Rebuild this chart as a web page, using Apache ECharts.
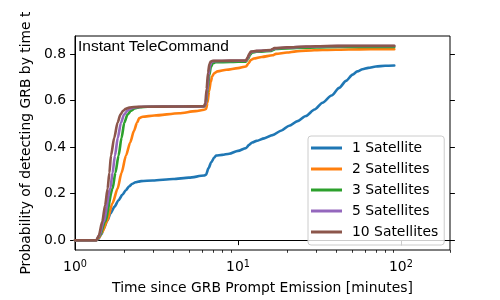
<!DOCTYPE html>
<html>
<head>
<meta charset="utf-8">
<script src="https://cdn.jsdelivr.net/npm/echarts@6/dist/echarts.min.js"></script>
<style>html,body{margin:0;padding:0;background:#fff}#c{width:500px;height:300px}</style>
</head>
<body>
<div id="c"></div>
<script>
const seriesNames = ['1 Satellite', '2 Satellites', '3 Satellites', '5 Satellites', '10 Satellites'];
const seriesColors = ['#1f77b4', '#ff7f0e', '#2ca02c', '#9467bd', '#8c564b'];

const t1 = [1, 1.35, 1.39, 1.45, 1.5, 1.58, 1.65, 1.75, 1.85, 1.95, 2.05, 2.15, 2.25, 2.35, 2.45, 2.55, 3.0, 4.0, 5.0, 6.2, 6.37, 6.6, 6.85, 7.15, 7.33, 8.0, 8.84, 10.0, 11.19, 11.7, 12.2, 13.0, 14.5, 16.3, 18.5, 20.6, 23.2, 26.1, 29.5, 33.0, 37.5, 41.8, 46.0, 50.5, 54.0, 58.1, 63.0, 70.2, 80.0, 91.0];
const p1 = [0, 0, 0.005, 0.025, 0.05, 0.085, 0.115, 0.145, 0.172, 0.195, 0.215, 0.232, 0.243, 0.249, 0.252, 0.254, 0.257, 0.263, 0.269, 0.278, 0.282, 0.31, 0.335, 0.355, 0.364, 0.367, 0.372, 0.384, 0.396, 0.41, 0.42, 0.427, 0.438, 0.452, 0.472, 0.492, 0.512, 0.534, 0.562, 0.591, 0.622, 0.655, 0.685, 0.712, 0.726, 0.735, 0.741, 0.747, 0.75, 0.751];

const t2 = [1, 1.35, 1.4, 1.47, 1.57, 1.7, 1.825, 1.93, 2.055, 2.18, 2.3, 2.4, 2.48, 2.6, 3.065, 4.36, 5.5, 6.2, 6.37, 6.5, 6.65, 6.8, 6.95, 7.15, 7.5, 8.5, 10.0, 11.2, 11.6, 12.0, 12.5, 14.0, 16.3, 17.1, 20.0, 22.7, 26.1, 33.0, 48.0, 65.0, 91.0];
const p2 = [0, 0, 0.01, 0.035, 0.08, 0.16, 0.222, 0.29, 0.364, 0.42, 0.47, 0.505, 0.525, 0.531, 0.536, 0.546, 0.555, 0.561, 0.564, 0.59, 0.64, 0.68, 0.705, 0.718, 0.726, 0.733, 0.74, 0.747, 0.76, 0.775, 0.781, 0.788, 0.795, 0.801, 0.807, 0.812, 0.815, 0.818, 0.82, 0.821, 0.821];

const t3 = [1, 1.35, 1.42, 1.53, 1.701, 1.77, 1.851, 1.93, 2.007, 2.1, 2.2, 2.32, 2.5, 2.8, 6.2, 6.37, 6.52, 6.67, 6.82, 7.0, 7.3, 9.0, 11.2, 11.55, 11.85, 12.2, 13.0, 16.0, 16.5, 17.0, 20.0, 26.1, 35.0, 48.0, 91.0];
const p3 = [0, 0, 0.02, 0.08, 0.222, 0.29, 0.364, 0.44, 0.506, 0.54, 0.556, 0.566, 0.572, 0.574, 0.575, 0.59, 0.65, 0.71, 0.745, 0.76, 0.765, 0.766, 0.768, 0.78, 0.797, 0.807, 0.81, 0.814, 0.818, 0.822, 0.825, 0.828, 0.83, 0.831, 0.831];

const t5 = [1, 1.35, 1.41, 1.5, 1.647, 1.7, 1.759, 1.83, 1.915, 2.0, 2.1, 2.2, 2.35, 2.6, 4.5, 6.2, 6.33, 6.47, 6.6, 6.73, 6.87, 7.1, 9.0, 11.2, 11.5, 11.75, 12.05, 13.0, 15.9, 16.4, 16.8, 20.0, 26.1, 35.0, 48.0, 91.0];
const p5 = [0, 0, 0.02, 0.08, 0.222, 0.29, 0.364, 0.44, 0.506, 0.54, 0.557, 0.566, 0.572, 0.574, 0.575, 0.575, 0.585, 0.64, 0.71, 0.75, 0.765, 0.77, 0.771, 0.772, 0.783, 0.798, 0.81, 0.813, 0.817, 0.821, 0.825, 0.828, 0.832, 0.834, 0.835, 0.835];

const t10 = [1, 1.35, 1.4, 1.47, 1.53, 1.585, 1.625, 1.663, 1.74, 1.825, 1.9, 1.97, 2.05, 2.15, 2.3, 2.6, 4.5, 6.2, 6.3, 6.42, 6.55, 6.68, 6.8, 7.0, 9.0, 11.2, 11.45, 11.7, 12.0, 13.0, 15.9, 16.3, 16.7, 20.0, 26.1, 35.0, 48.0, 91.0];
const p10 = [0, 0, 0.02, 0.08, 0.15, 0.222, 0.29, 0.364, 0.44, 0.506, 0.54, 0.556, 0.565, 0.57, 0.573, 0.574, 0.575, 0.576, 0.59, 0.65, 0.72, 0.757, 0.768, 0.771, 0.772, 0.773, 0.785, 0.8, 0.811, 0.814, 0.818, 0.822, 0.826, 0.829, 0.833, 0.835, 0.836, 0.836];

const xTicks = [1, 10, 100];
const xMinorTicks = [2, 3, 4, 5, 6, 7, 8, 9, 20, 30, 40, 50, 60, 70, 80, 90, 200];
const yTicks = [0, 0.2, 0.4, 0.6, 0.8];

const xMin = 1, xMax = 200, yMin = -0.042, yMax = 0.878;

const allT = [t1, t2, t3, t5, t10];
const allP = [p1, p2, p3, p5, p10];

const FONT = 'DejaVu Sans';
const chart = echarts.init(document.getElementById('c'));

const series = seriesNames.map((name, i) => ({
  name: name,
  type: 'line',
  data: allT[i].map((t, j) => [t, allP[i][j]]),
  showSymbol: false,
  symbol: 'none',
  smooth: 0.25,
  smoothMonotone: 'x',
  lineStyle: { width: 2.6, color: seriesColors[i], cap: 'round', join: 'round' },
  itemStyle: { color: seriesColors[i] },
  emphasis: { disabled: true },
  animation: false
}));

chart.setOption({
  animation: false,
  textStyle: { fontFamily: FONT },
  grid: { left: 75, right: 50, top: 36, bottom: 48, show: true, borderColor: '#000', borderWidth: 1, backgroundColor: 'transparent' },
  title: {
    text: 'Instant TeleCommand', left: 78, top: 39, padding: 0,
    textStyle: { fontFamily: 'Liberation Sans', fontSize: 15.5, fontWeight: 'normal', color: '#000' }
  },
  legend: {
    orient: 'vertical', left: 308, top: 136,
    padding: [5, 6, 6, 3], itemGap: 7, itemWidth: 31, itemHeight: 3, icon: 'rect',
    backgroundColor: 'rgba(255,255,255,0.8)', borderColor: '#cccccc', borderWidth: 1, borderRadius: 3,
    textStyle: { fontFamily: FONT, fontSize: 13.9, color: '#000', padding: [0, 0, 0, 5], lineHeight: 14 },
    data: seriesNames
  },
  xAxis: [{
    type: 'log', logBase: 10, min: xMin, max: xMax,
    name: 'Time since GRB Prompt Emission [minutes]', nameLocation: 'middle', nameGap: 31,
    nameTextStyle: { fontFamily: FONT, fontSize: 13.9, color: '#000' },
    axisLine: { show: true, lineStyle: { color: '#000', width: 1 } },
    axisTick: { show: true, length: 4.9, inside: false, lineStyle: { color: '#000', width: 1 }, customValues: xTicks },
    axisLabel: {
      show: true, margin: 9, color: '#000', fontFamily: FONT, fontSize: 13.9,
      customValues: xTicks,
      formatter: v => '10{s|' + Math.round(Math.log10(v)) + '}',
      rich: { s: { fontSize: 9.7, fontFamily: FONT, color: '#000', verticalAlign: 'top', padding: [0, 0, 6, 0] } }
    },
    splitLine: { show: false },
    minorTick: { show: false }
  }],
  yAxis: [{
    type: 'value', min: yMin, max: yMax, position: 'left',
    name: 'Probability of detecting GRB by time t', nameLocation: 'middle', nameGap: 38,
    nameTextStyle: { fontFamily: FONT, fontSize: 13.9, color: '#000' },
    axisLine: { show: true, lineStyle: { color: '#000', width: 1 } },
    axisTick: { show: true, length: 4.9, lineStyle: { color: '#000', width: 1 }, customValues: yTicks },
    axisLabel: { show: true, margin: 9, color: '#000', fontFamily: FONT, fontSize: 13.9, customValues: yTicks, formatter: v => v.toFixed(1) },
    splitLine: { show: false }
  }, {
    type: 'value', min: yMin, max: yMax, position: 'right',
    axisLine: { show: false },
    axisTick: { show: true, length: 4.9, lineStyle: { color: '#000', width: 1 }, customValues: yTicks },
    axisLabel: { show: false, customValues: yTicks },
    splitLine: { show: false }
  }],
  series: series
});

// minor ticks on the log x axis, positioned through the axis scale
const yBottom = chart.convertToPixel({ yAxisIndex: 0 }, yMin);
const minorEls = xMinorTicks.map(v => {
  const px = Math.round(chart.convertToPixel({ xAxisIndex: 0 }, v)) + 0.5;
  return { type: 'line', silent: true, shape: { x1: px, y1: yBottom, x2: px, y2: yBottom + 2.8 }, style: { stroke: '#000', lineWidth: 0.8 } };
});
chart.setOption({ graphic: minorEls });
</script>
</body>
</html>
